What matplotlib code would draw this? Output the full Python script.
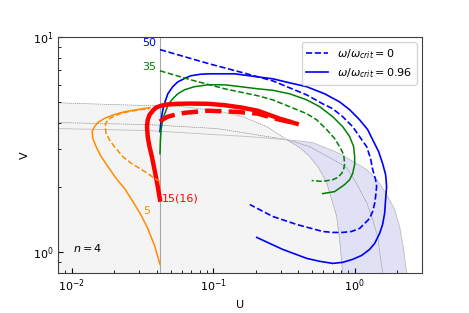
import numpy as np
import matplotlib
matplotlib.use('Agg')
import matplotlib.pyplot as plt

plt.rcParams['font.size'] = 8

# U of the inner boundary (vertical line)
u_core = 0.042

# grey boundary curves in the U-V plane
g1_U = [0.008, 0.0356, 0.0609, 0.1059, 0.1616, 0.2388, 0.3307, 0.4087, 0.481, 0.548,
        0.634, 0.688, 0.746, 0.783, 0.823]
g1_V = [4.94, 4.79, 4.74, 4.54, 4.26, 3.83, 3.33, 3.06, 2.78, 2.50,
        2.10, 1.755, 1.464, 1.145, 0.8]
g2_U = [0.008, 0.0356, 0.1059, 0.1811, 0.3307, 0.481, 0.666, 0.878, 1.033, 1.216, 1.341, 1.454, 1.577]
g2_V = [4.00, 3.91, 3.75, 3.55, 3.33, 3.09, 2.75, 2.47, 2.08, 1.70, 1.418, 1.183, 0.8]
g3_U = [0.008, 0.0356, 0.1059, 0.1811, 0.3307, 0.505, 0.783, 1.216, 1.454, 1.683,
        1.917, 2.08, 2.22, 2.33]
g3_V = [3.75, 3.67, 3.51, 3.44, 3.33, 3.23, 2.87, 2.42, 2.15, 1.851,
        1.578, 1.315, 1.029, 0.8]

# M = 50
b0_U = [0.042, 0.0944, 0.1539, 0.2634, 0.458, 0.594, 0.699, 0.823, 0.968, 1.084, 1.216,
        1.297, 1.341, 1.407, 1.431, 1.407, 1.385, 1.341, 1.276, 1.177, 1.084, 0.952,
        0.823, 0.699, 0.594, 0.389, 0.2634, 0.1811]
b0_V = [8.73, 7.49, 6.88, 6.25, 5.38, 4.89, 4.64, 4.26, 3.83, 3.44, 3.09,
        2.72, 2.42, 2.17, 2.02, 1.812, 1.682, 1.544, 1.433, 1.358, 1.288, 1.247,
        1.234, 1.234, 1.247, 1.344, 1.464, 1.664]
b1_U = [0.042, 0.0428, 0.0440, 0.0456, 0.0477, 0.0517, 0.0561, 0.0626, 0.0693, 0.0816,
        0.0960, 0.1418, 0.2063, 0.2634, 0.347, 0.458, 0.614, 0.783, 0.922, 1.084,
        1.236, 1.341, 1.478, 1.577, 1.656, 1.683, 1.656, 1.629, 1.577, 1.502,
        1.385, 1.276, 1.121, 0.968, 0.823, 0.699, 0.566, 0.458, 0.310, 0.203]
b1_V = [3.63, 4.12, 4.59, 4.99, 5.44, 5.87, 6.18, 6.41, 6.60, 6.71,
        6.74, 6.74, 6.52, 6.39, 6.12, 5.87, 5.44, 4.99, 4.59, 4.12,
        3.71, 3.33, 2.93, 2.58, 2.29, 2.02, 1.755, 1.511, 1.344, 1.221,
        1.097, 1.029, 0.965, 0.925, 0.896, 0.886, 0.906, 0.935, 1.029, 1.17]

# M = 35
g0_U = [0.042, 0.0693, 0.1206, 0.2063, 0.2634, 0.458, 0.539, 0.634, 0.722, 0.783,
        0.836, 0.850, 0.836, 0.809, 0.758, 0.699, 0.594, 0.497]
g0_V = [6.96, 6.32, 5.74, 5.33, 5.10, 4.40, 4.12, 3.71, 3.37, 3.09,
        2.84, 2.58, 2.42, 2.32, 2.22, 2.17, 2.13, 2.15]
gr1_U = [0.042, 0.0423, 0.0428, 0.0440, 0.0483, 0.0517, 0.0561, 0.0626, 0.0736, 0.0914,
         0.1206, 0.1564, 0.2063, 0.2634, 0.347, 0.458, 0.566, 0.699, 0.823, 0.922,
         0.984, 1.0, 1.0, 0.968, 0.922, 0.850, 0.722, 0.594]
gr1_V = [2.87, 3.33, 3.71, 4.17, 4.89, 5.16, 5.44, 5.68, 5.87, 5.99,
         5.99, 5.87, 5.74, 5.65, 5.44, 5.10, 4.74, 4.26, 3.83, 3.44,
         3.09, 2.78, 2.55, 2.32, 2.17, 2.06, 1.91, 1.87]

# M = 15 (16)
r0_U = [0.042, 0.0440, 0.0477, 0.0532, 0.0629, 0.0914, 0.1418, 0.2063, 0.295, 0.3646]
r0_V = [4.04, 4.14, 4.26, 4.34, 4.44, 4.54, 4.49, 4.40, 4.12, 4.00]
r1_U = [0.042, 0.0401, 0.0384, 0.0368, 0.0354, 0.0344, 0.0340, 0.0344, 0.0354, 0.0374,
        0.0394, 0.0428, 0.0477, 0.0561, 0.0693, 0.0914, 0.120, 0.1572, 0.2063, 0.295, 0.389]
r1_V = [1.755, 2.09, 2.42, 2.78, 3.09, 3.44, 3.83, 4.11, 4.34, 4.54,
        4.70, 4.79, 4.86, 4.89, 4.90, 4.89, 4.82, 4.70, 4.54, 4.17, 3.95]

# M = 5
o0_U = [0.042, 0.0384, 0.0344, 0.0301, 0.0262, 0.0229, 0.0200, 0.01847, 0.01748, 0.01719,
        0.01748, 0.01817, 0.0195, 0.0217, 0.0249, 0.0293, 0.0354]
o0_V = [2.13, 2.20, 2.32, 2.45, 2.59, 2.78, 3.09, 3.32, 3.56, 3.83,
        4.00, 4.14, 4.26, 4.38, 4.49, 4.57, 4.65]
o1_U = [0.0356, 0.0293, 0.0236, 0.0200, 0.0170, 0.01527, 0.01447, 0.01391, 0.01407, 0.01484,
        0.0161, 0.01797, 0.02056, 0.0236, 0.0270, 0.0307, 0.0344, 0.0384, 0.042]
o1_V = [4.69, 4.60, 4.49, 4.36, 4.18, 4.00, 3.83, 3.63, 3.38, 3.09,
        2.78, 2.50, 2.20, 1.974, 1.718, 1.496, 1.288, 1.074, 0.877]

fig = plt.figure(figsize=(4.69, 3.13), dpi=100)
ax = fig.add_axes([0.124, 0.128, 0.776, 0.754])
ax.set_xscale('log')
ax.set_yscale('log')

# shaded regions
ax.fill_between(g1_U, g1_V, 0.8, color='#f4f4f4', lw=0, zorder=0)
lav_U = g1_U[6:] + g3_U[4:][::-1]
lav_V = g1_V[6:] + g3_V[4:][::-1]
ax.fill(lav_U, lav_V, color='#e1e1f6', lw=0, zorder=0)

ax.plot(g1_U, g1_V, color='0.55', ls=(0, (2, 1)), lw=0.5, zorder=1)
ax.plot(g2_U, g2_V, color='0.55', ls=(0, (2, 1)), lw=0.5, zorder=1)
ax.plot(g3_U, g3_V, color='0.75', lw=0.6, zorder=1)
ax.axvline(u_core, color='0.65', lw=0.8, zorder=1)

ax.plot(b0_U, b0_V, 'b--', lw=1.2, label=r'$\omega/\omega_{crit}=0$')
ax.plot(b1_U, b1_V, 'b-', lw=1.2, label=r'$\omega/\omega_{crit}=0.96$')
ax.plot(g0_U, g0_V, '--', color='g', lw=1.1)
ax.plot(gr1_U, gr1_V, '-', color='g', lw=1.1)
ax.plot(r0_U, r0_V, 'r--', lw=3.2)
ax.plot(r1_U, r1_V, 'r-', lw=3.2)
ax.plot(o0_U, o0_V, '--', color='darkorange', lw=1.1)
ax.plot(o1_U, o1_V, '-', color='darkorange', lw=1.1)

ax.text(0.0395, 9.38, '50', color='b', ha='right', va='center', fontsize=8)
ax.text(0.0395, 7.26, '35', color='g', ha='right', va='center', fontsize=8)
ax.text(0.043, 1.77, '15(16)', color='r', ha='left', va='center', fontsize=8)
ax.text(0.0339, 1.56, '5', color='darkorange', ha='center', va='center', fontsize=8)
ax.text(0.0102, 1.04, '$n=4$', ha='left', va='center', fontsize=8)

ax.set_xlim(0.008, 3)
ax.set_ylim(0.8, 10)
ax.set_xlabel('U', fontsize=8)
ax.set_ylabel('V', fontsize=8, labelpad=2)
ax.tick_params(which='both', direction='in', labelsize=8)
for s in ax.spines.values():
    s.set_color('0.25')

ax.legend(loc='upper right', fontsize=8)

fig.savefig('out.png', dpi=100)
